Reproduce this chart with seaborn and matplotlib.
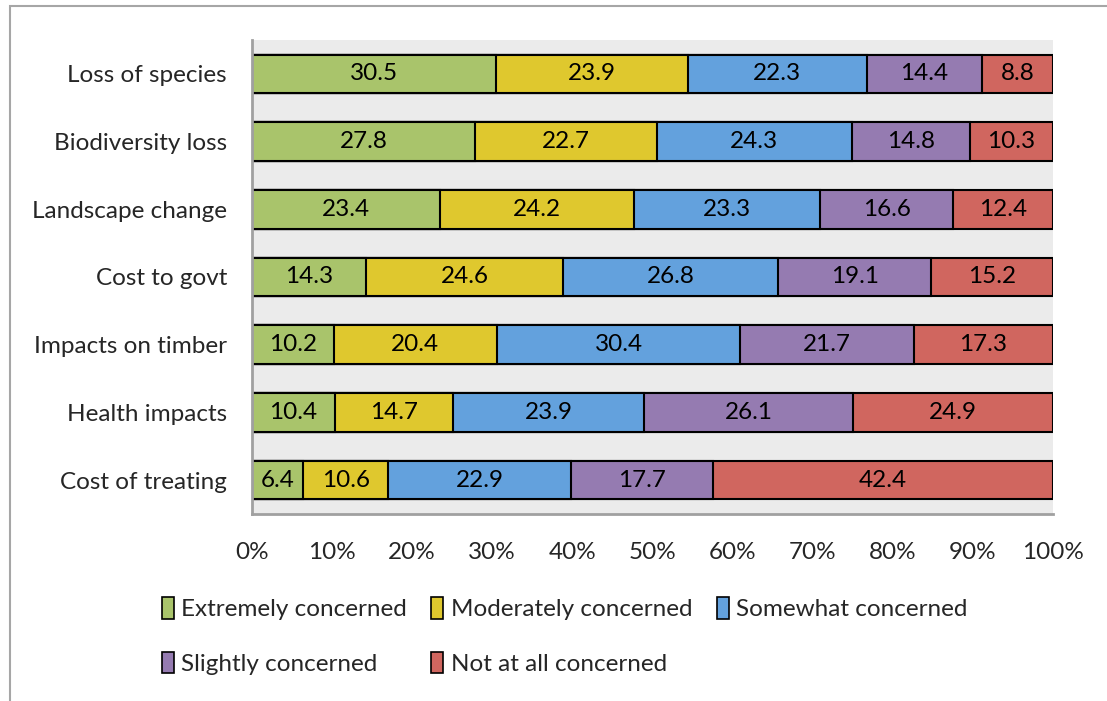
import numpy as np
import pandas as pd
import matplotlib
matplotlib.use("Agg")
import matplotlib.pyplot as plt
from matplotlib.patches import Rectangle, Patch
from matplotlib.ticker import FuncFormatter
import seaborn as sns

categories = ["Loss of species", "Biodiversity loss", "Landscape change", "Cost to govt",
              "Impacts on timber", "Health impacts", "Cost of treating"]
series = ["Extremely concerned", "Moderately concerned", "Somewhat concerned",
          "Slightly concerned", "Not at all concerned"]
extremely = [30.5, 27.8, 23.4, 14.3, 10.2, 10.4, 6.4]
moderately = [23.9, 22.7, 24.2, 24.6, 20.4, 14.7, 10.6]
somewhat = [22.3, 24.3, 23.3, 26.8, 30.4, 23.9, 22.9]
slightly = [14.4, 14.8, 16.6, 19.1, 21.7, 26.1, 17.7]
not_at_all = [8.8, 10.3, 12.4, 15.2, 17.3, 24.9, 42.4]
colors = ["#a9c46b", "#dfc82e", "#63a1dd", "#957bb1", "#d0665f"]

sns.set_style("white")
plt.rcParams["font.family"] = ["Lato", "DejaVu Sans"]
FS = 17.5

vals = np.array([extremely, moderately, somewhat, slightly, not_at_all])
pct = vals / vals.sum(axis=0) * 100
cum = pct.cumsum(axis=0)

df = pd.DataFrame({"category": categories})
for i, s in enumerate(series):
    df[s] = cum[i]

fig = plt.figure(figsize=(11.07, 7.01), dpi=100)
ax = fig.add_axes([0.2276, 0.2668, 0.951 - 0.2276, 0.943 - 0.2668])
ax.set_facecolor("#ebebeb")

# draw widest cumulative first so shorter ones sit on top
for i in range(len(series) - 1, -1, -1):
    sns.barplot(data=df, x=series[i], y="category", orient="h", color=colors[i],
                width=0.57, edgecolor="black", linewidth=1.5, saturation=1, ax=ax)

for j in range(len(categories)):
    left = 0
    for i in range(len(series)):
        ax.text(left + pct[i, j] / 2, j, f"{vals[i, j]:.1f}", ha="center", va="center",
                fontsize=FS, color="black")
        left = cum[i, j]

ax.set_xlim(0, 100)
ax.set_ylim(6.5, -0.5)
ax.set_xticks(np.arange(0, 101, 10))
ax.xaxis.set_major_formatter(FuncFormatter(lambda v, p: f"{v:.0f}%"))
ax.tick_params(axis="both", length=0, labelsize=FS)
ax.tick_params(axis="x", pad=20)
ax.tick_params(axis="y", pad=18)
ax.set_xlabel("")
ax.set_ylabel("")
for side in ["top", "right"]:
    ax.spines[side].set_visible(False)
for side in ["left", "bottom"]:
    ax.spines[side].set_color("#a0a0a0")
    ax.spines[side].set_linewidth(2)

handles = [Patch(facecolor=c, edgecolor="black", linewidth=1.2) for c in colors]
order = [0, 3, 1, 4, 2]
fig.legend([handles[k] for k in order], [series[k] for k in order], ncol=3,
           loc="center", bbox_to_anchor=(0.51, 0.093), frameon=False, fontsize=FS,
           handlelength=0.5, handleheight=1.0, handletextpad=0.3, columnspacing=1.0,
           labelspacing=1.3)

fig.patches.append(Rectangle((0.009, -0.1), 1.2, 1.0914, transform=fig.transFigure,
                             fill=False, edgecolor="#a6a6a6", linewidth=1.5))

fig.savefig("out.png", dpi=100)
